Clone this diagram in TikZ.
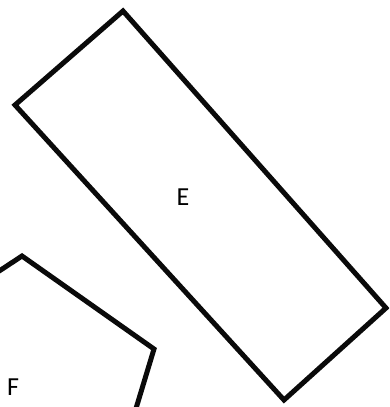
\documentclass[tikz,border=0pt]{standalone}
\usepackage{fontspec}
\setmainfont{Carlito}
\usepackage{tikz}
\definecolor{shapeblack}{RGB}{10,10,10}

\begin{document}
\begin{tikzpicture}[x=1pt, y=-1pt]
  \useasboundingbox (0,0) rectangle (389,407);
  \clip (0,0) rectangle (389,407);

  % Rectangle E
  \draw[shapeblack, line width=5pt, line join=miter] %
    (123,11) -- (15,105) -- (284,400) -- (386,308) -- cycle;
  \node[font=\fontsize{26}{28}\selectfont] (labelE) at (183,197) {E};

  % Polygon F (cut off at the edges)
  \draw[shapeblack, line width=5pt, line join=miter] %
    (-16,281) -- (22,256) -- (154,349) -- (131,425);
  \node[font=\fontsize{26}{28}\selectfont] (labelF) at (13,387) {F};
\end{tikzpicture}
\end{document}
